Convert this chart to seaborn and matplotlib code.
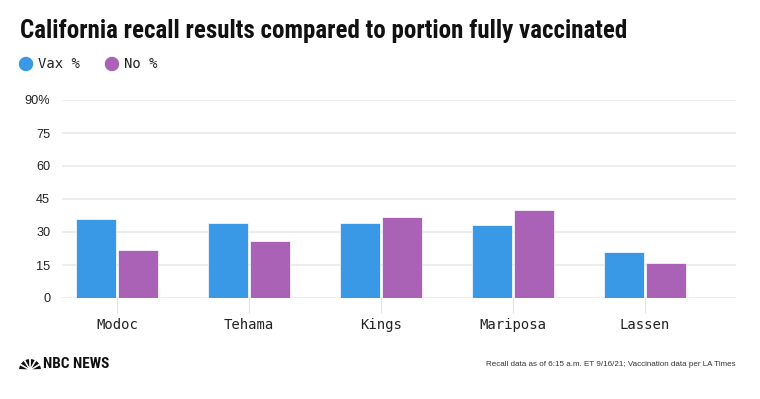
import matplotlib
matplotlib.use("Agg")
import matplotlib.pyplot as plt
from matplotlib import font_manager
from matplotlib.patches import Wedge, Circle
import pandas as pd
import seaborn as sns

counties = ["Modoc", "Tehama", "Kings", "Mariposa", "Lassen"]
vax_pct = [36, 34, 34, 33, 21]
no_pct = [22, 26, 37, 40, 16]
series = ["Vax %", "No %"]
y_ticks = [0, 15, 30, 45, 60, 75, 90]
y_labels = ["0", "15", "30", "45", "60", "75", "90%"]

colors = {"Vax %": "#3A99E6", "No %": "#A962B6"}

df = pd.DataFrame({
    "county": counties * 2,
    "series": [series[0]] * len(counties) + [series[1]] * len(counties),
    "value": vax_pct + no_pct,
})

sns.set_theme(style="white")
plt.rcParams["font.family"] = ["Liberation Sans", "DejaVu Sans"]
mono = ["DejaVu Sans Mono"]

# pick the narrowest bold family we have for the headline
have = {f.name for f in font_manager.fontManager.ttflist}
title_family = "Roboto"
for cand in ["Roboto Condensed", "Liberation Sans Narrow", "DejaVu Sans Condensed"]:
    if cand in have:
        title_family = cand
        break

W, H = 760, 399
fig = plt.figure(figsize=(W / 100, H / 100), dpi=100)
px = fig.dpi_scale_trans  # inches; 1 px = 0.01 in
ax = fig.add_axes([62 / W, 1 - 298 / H, (736 - 62) / W, 198 / H])

sns.barplot(data=df, x="county", y="value", hue="series", order=counties,
            hue_order=series, palette=colors, saturation=1, width=0.64, gap=0.05,
            edgecolor="#ffffff", linewidth=0.5, legend=False, ax=ax, zorder=3)

ax.set_ylim(0, 90)
ax.set_xlim(-0.417, 4.69)
ax.set_yticks(y_ticks)
ax.set_yticklabels(y_labels)
ax.yaxis.grid(True, color="#ececec", linewidth=1.3, zorder=0)
ax.xaxis.grid(False)
for s in ax.spines.values():
    s.set_visible(False)
ax.set_xlabel("")
ax.set_ylabel("")
ax.tick_params(axis="y", left=False, length=0, pad=8.5, labelsize=9.2, labelcolor="#222222")
ax.tick_params(axis="x", bottom=True, length=10.8, width=0.8, color="#e4e4e4", pad=3.5,
               labelsize=10, labelcolor="#222222")
for lab in ax.get_xticklabels():
    lab.set_family(mono)

# title, sized to the headline width of the original
title = fig.text(20 / W, 1 - 38 / H, "California recall results compared to portion fully vaccinated",
                 fontsize=17.5, fontweight="bold", family=[title_family, "DejaVu Sans"],
                 color="#111111", ha="left", va="baseline")
fig.canvas.draw()
tw = title.get_window_extent().width
title.set_fontsize(17.5 * 607 / tw)

# legend
for x0, name in [(26, series[0]), (112, series[1])]:
    fig.patches.append(Circle((x0 / 100, (H - 64) / 100), 0.065, transform=px,
                              color=colors[name]))
    fig.text((x0 + 12) / W, 1 - 64 / H, name, family=mono, fontsize=10,
             color="#222222", ha="left", va="center")

# footer logo
for a in range(0, 180, 30):
    fig.patches.append(Wedge((30 / 100, (H - 370) / 100), 0.115, a + 2, a + 28, transform=px,
                             facecolor="#111111", edgecolor="white", linewidth=0.8))
fig.text(43 / W, 1 - 364 / H, "NBC NEWS", fontsize=11, fontweight="bold",
         family=[title_family, "DejaVu Sans"], color="#111111", ha="left", va="center")
fig.text(736 / W, 1 - 365 / H,
         "Recall data as of 6:15 a.m. ET 9/16/21; Vaccination data per LA Times",
         fontsize=5.8, color="#333333", ha="right", va="center")

fig.savefig("out.png", dpi=100)
